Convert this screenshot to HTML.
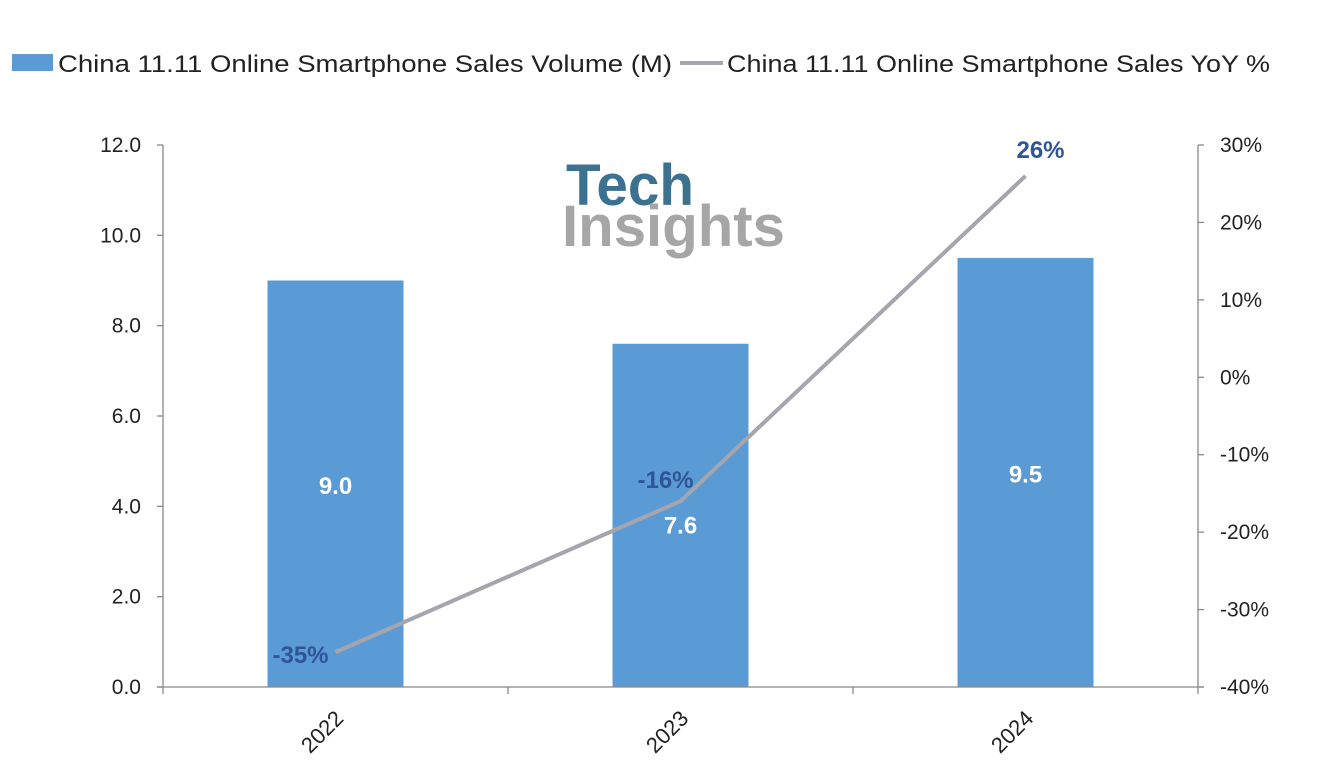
<!DOCTYPE html>
<html><head><meta charset="utf-8">
<style>
html,body{margin:0;padding:0;background:#fff;}
svg{display:block;font-family:"Liberation Sans",Arial,sans-serif;}
</style></head>
<body>
<svg id="chart" width="1334" height="778" viewBox="0 0 1334 778">
  <g>
    <rect x="12" y="54" width="41" height="17" fill="#5b9bd5"/>
    <text x="58" y="72" font-size="24" fill="#222" textLength="614" lengthAdjust="spacingAndGlyphs">China 11.11 Online Smartphone Sales Volume (M)</text>
    <line x1="680" y1="63" x2="723" y2="63" stroke="#a5a5ad" stroke-width="4"/>
    <text x="727" y="72" font-size="24" fill="#222" textLength="543" lengthAdjust="spacingAndGlyphs">China 11.11 Online Smartphone Sales YoY %</text>
  </g>
  <g font-weight="bold">
    <text x="566" y="205" font-size="58" fill="#3d7190" textLength="128" lengthAdjust="spacingAndGlyphs">Tech</text>
    <text x="562" y="246" font-size="58" fill="#a6a6a6" textLength="223" lengthAdjust="spacingAndGlyphs">Insights</text>
  </g>
  <g id="plot"></g>
</svg>
<script>
const categories = ["2022","2023","2024"];
const volumes = [9.0, 7.6, 9.5];
const volumeLabels = ["9.0","7.6","9.5"];
const yoy = [-35.5, -16, 26];
const yoyLabels = ["-35%","-16%","26%"];
const leftTicks = [0,2,4,6,8,10,12];
const rightTicks = [-40,-30,-20,-10,0,10,20,30];

const NS="http://www.w3.org/2000/svg";
const plot=document.getElementById('plot');
const X0=163, X1=1198, YT=145, YB=687;
const bw=(X1-X0)/categories.length;
const yL=v=>YB-(v-0)/(12-0)*(YB-YT);
const yR=v=>YB-(v+40)/(70)*(YB-YT);
const xc=i=>X0+bw*(i+0.5);
function mk(tag,attrs,parent){const e=document.createElementNS(NS,tag);for(const k in attrs)e.setAttribute(k,attrs[k]);(parent||plot).appendChild(e);return e;}

categories.forEach((c,i)=>{
  const y=yL(volumes[i]);
  const r=mk('rect',{x:xc(i)-68,y:y,width:136,height:YB-y,fill:'#5b9bd5'});
  
  
});
const axL=mk('line',{x1:X0,y1:YT,x2:X0,y2:YB,stroke:'#888','stroke-width':1.3});


const axR=mk('line',{x1:X1,y1:YT,x2:X1,y2:YB,stroke:'#888','stroke-width':1.3});


const axX=mk('line',{x1:X0-6,y1:YB,x2:X1+6,y2:YB,stroke:'#888','stroke-width':1.3});



leftTicks.forEach(v=>{
  const y=yL(v);
  mk('line',{x1:X0-6,y1:y,x2:X0,y2:y,stroke:'#888','stroke-width':1.3});
  const t=mk('text',{x:X0-22,y:y+7,'font-size':21,'text-anchor':'end',fill:'#222'});
  t.textContent=v.toFixed(1);
  
  
});
rightTicks.forEach(v=>{
  const y=yR(v);
  mk('line',{x1:X1,y1:y,x2:X1+6,y2:y,stroke:'#888','stroke-width':1.3});
  const t=mk('text',{x:X1+22,y:y+7,'font-size':21,'text-anchor':'start',fill:'#222'});
  t.textContent=v+'%';
  
  
});
for(let i=0;i<=categories.length;i++){
  const x=X0+bw*i;
  mk('line',{x1:x,y1:YB,x2:x,y2:YB+7,stroke:'#888','stroke-width':1.3});
}
categories.forEach((c,i)=>{
  const x=xc(i)-8, y=YB+50;
  const t=mk('text',{x:x,y:y,'font-size':22,'text-anchor':'middle',fill:'#222',transform:`rotate(-45 ${x} ${y})`});
  t.textContent=c;
  
  
});
categories.forEach((c,i)=>{
  const y=yL(volumes[i]);
  const ly=i===1?yL(volumes[i])+190:(y+YB)/2+10;
  const t=mk('text',{x:xc(i),y:ly,'font-size':24,'font-weight':'bold','text-anchor':'middle',fill:'#fff'});
  t.textContent=volumeLabels[i];
  
  
});
const pts=yoy.map((v,i)=>xc(i)+','+yR(v)).join(' ');
const pl=mk('polyline',{points:pts,fill:'none',stroke:'#a5a5ad','stroke-width':4,'stroke-linejoin':'round'});


const offs=[[-35,11],[-15,-13],[15,-18]];
yoy.forEach((v,i)=>{
  const t=mk('text',{x:xc(i)+offs[i][0],y:yR(v)+offs[i][1],'font-size':24,'font-weight':'bold','text-anchor':'middle',fill:'#2f5597'});
  t.textContent=yoyLabels[i];
  
  
});
</script>
</body></html>
